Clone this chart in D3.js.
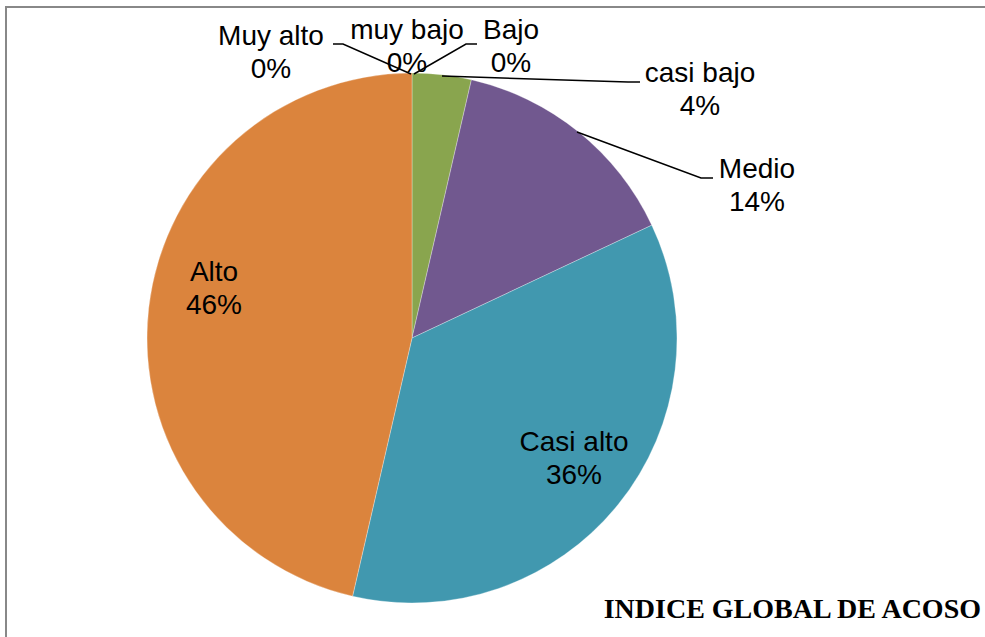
<!DOCTYPE html>
<html><head><meta charset="utf-8">
<script src="https://cdn.jsdelivr.net/npm/d3@7"></script>
<style>html,body{margin:0;padding:0;background:#fff;}svg{display:block;}</style>
</head><body>
<svg id="chart" width="985" height="637"></svg>
<script>
const categories = ["muy bajo", "Bajo", "casi bajo", "Medio", "Casi alto", "Alto", "Muy alto"];
const values = [0, 0, 3.6, 14.4, 35.6, 46.4, 0];
const colors = ["#4F81BD", "#C0504D", "#89A54E", "#71588F", "#4198AF", "#DB843D", "#93A9CF"];
const title = "INDICE GLOBAL DE ACOSO";

// layout (label anchor positions and leader lines)
const labelPos = {
  "muy bajo": {x: 407, y: 39},
  "Bajo": {x: 511, y: 39},
  "casi bajo": {x: 700, y: 82},
  "Medio": {x: 757, y: 178},
  "Casi alto": {x: 574, y: 451},
  "Alto": {x: 214, y: 281},
  "Muy alto": {x: 271, y: 45}
};
const leaders = {
  "Muy alto": [[333, 44], [343, 44], [411, 74]],
  "Bajo": [[477, 44], [466, 44], [414, 74]],
  "casi bajo": [[442, 76], [628, 82], [640, 82]],
  "Medio": [[577, 132], [701, 178], [713, 178]]
};

const svg = d3.select("#chart");
const cx = 412, cy = 338, R = 265;

svg.append("rect").attr("x", 6).attr("y", 7).attr("width", 1000).attr("height", 700)
  .attr("fill", "#fff").attr("stroke", "#888").attr("stroke-width", 2);

const data = categories.map((c, i) => ({cat: c, value: values[i], color: colors[i]}));
const pie = d3.pie().sort(null).value(d => d.value);
const arcs = pie(data);
const arc = d3.arc().innerRadius(0).outerRadius(R);

const g = svg.append("g").attr("transform", `translate(${cx},${cy})`);
g.selectAll("path").data(arcs.filter(a => a.data.value > 0)).join("path")
  .attr("d", arc).attr("fill", d => d.data.color)
  .attr("stroke", "#fff").attr("stroke-width", 0.5).attr("stroke-opacity", 0.6);

const line = d3.line();
Object.entries(leaders).forEach(([k, pts]) => {
  svg.append("path").attr("d", line(pts)).attr("fill", "none")
    .attr("stroke", "#000").attr("stroke-width", 1.5);
});

const fmt = d3.format(".0%");
const total = d3.sum(values);
data.forEach(d => {
  const p = labelPos[d.cat];
  const t = svg.append("text").attr("x", p.x).attr("y", p.y)
    .attr("text-anchor", "middle")
    .style("font-family", "'Liberation Sans', Arial, sans-serif")
    .style("font-size", "28px").attr("fill", "#000");
  t.append("tspan").attr("x", p.x).text(d.cat);
  t.append("tspan").attr("x", p.x).attr("dy", 33).text(fmt(d.value / total));
});

svg.append("text").attr("x", 981).attr("y", 618).attr("text-anchor", "end")
  .style("font-family", "'Liberation Serif', 'DejaVu Serif', serif")
  .style("font-weight", "bold").style("font-size", "28px").attr("fill", "#000")
  .text(title);
</script>
</body></html>
